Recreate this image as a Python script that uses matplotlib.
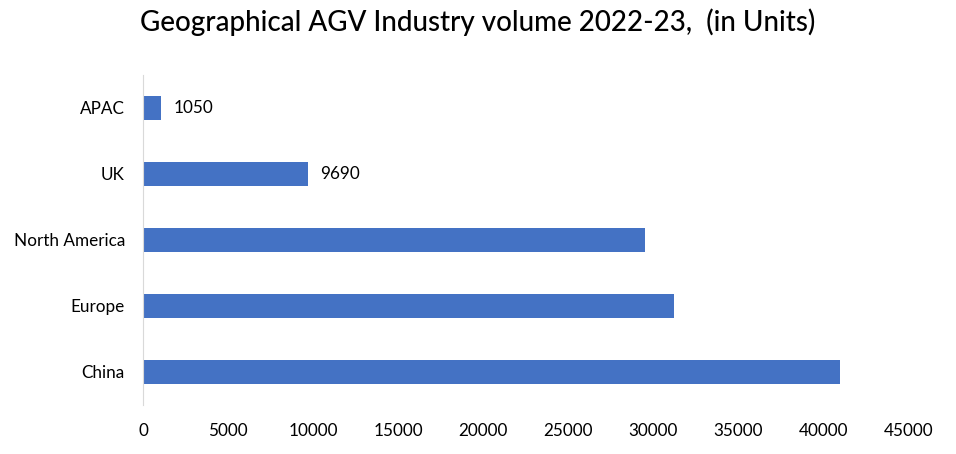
import matplotlib
matplotlib.use("Agg")
import matplotlib.pyplot as plt

# data
regions = ['China', 'Europe', 'North America', 'UK', 'APAC']
volumes = [41000, 31200, 29500, 9690, 1050]
shown_labels = {'UK': '9690', 'APAC': '1050'}
x_ticks = [0, 5000, 10000, 15000, 20000, 25000, 30000, 35000, 40000, 45000]

plt.rcParams['font.family'] = ['Lato', 'DejaVu Sans']

fig = plt.figure(figsize=(9.56, 4.54), dpi=100)
ax = fig.add_axes([0.1496, 0.108, 0.8004, 0.727])

ypos = list(range(len(regions)))
ax.barh(ypos, volumes, height=0.36, color='#4472C4')
ax.set_ylim(-0.5, len(regions) - 0.5)
ax.set_xlim(0, 45000)

ax.set_yticks(ypos)
ax.set_yticklabels(regions, fontsize=12.3)
ax.set_xticks(x_ticks)
ax.set_xticklabels([str(t) for t in x_ticks], fontsize=12.3)
ax.tick_params(length=0)
ax.tick_params(axis='y', pad=13)
ax.tick_params(axis='x', pad=13)

for sp in ['top', 'right', 'bottom']:
    ax.spines[sp].set_visible(False)
ax.spines['left'].set_color('#D9D9D9')

for y, name, v in zip(ypos, regions, volumes):
    if name in shown_labels:
        ax.text(v + 750, y, shown_labels[name], va='center', ha='left', fontsize=12.3)

fig.text(0.5, 0.952, 'Geographical AGV Industry volume 2022-23,  (in Units)',
         ha='center', va='center', fontsize=20, fontweight='medium')

fig.savefig('out.png', dpi=100)
